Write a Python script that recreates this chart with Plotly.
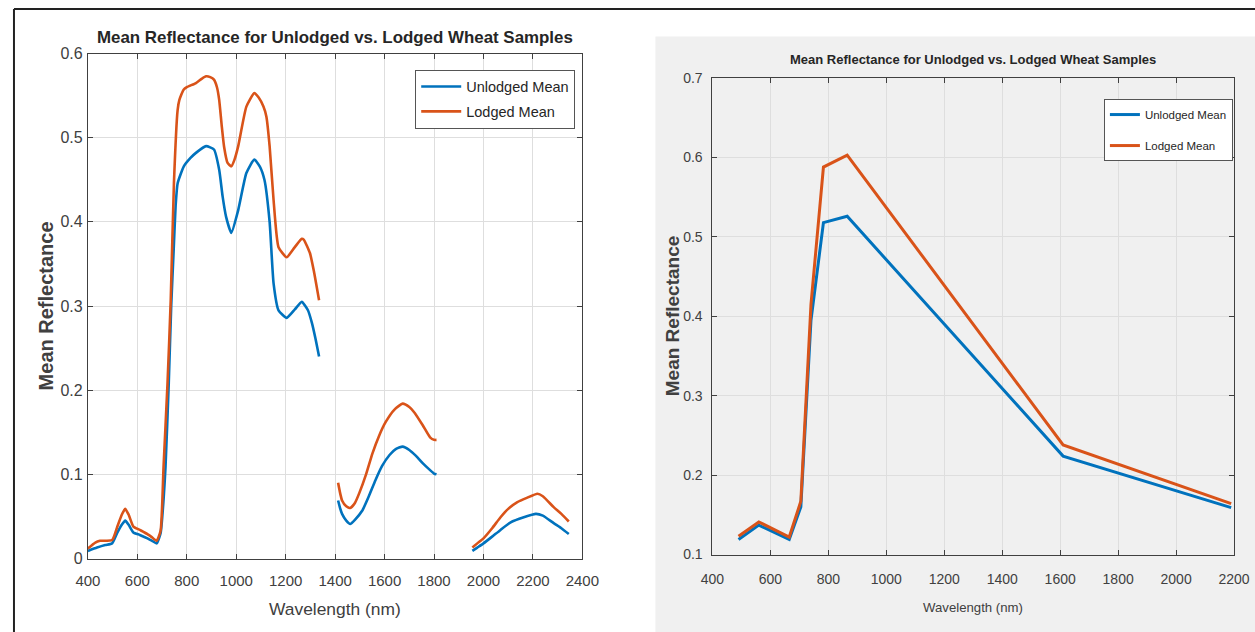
import plotly.graph_objects as go

# ---------------- Left chart data (hyperspectral mean reflectance) ----------------
left_wl = [400, 437, 470, 498, 518, 537, 551, 565, 584, 610, 641, 660, 678, 694, 706, 714, 727, 737, 747, 755, 763,
           788, 815, 837, 878, 910, 931, 945, 959, 980, 1008, 1041, 1073, 1095, 1114, 1135, 1151, 1171, 1204, 1237,
           1265, 1290, 1306, 1320, 1335, None,
           1412, 1420, 1428, 1445, 1461, 1480, 1510, 1535, 1563, 1590, 1620, 1645, 1673, 1700, 1727, 1755, 1784, 1800, 1810, None,
           1955, 1975, 2000, 2035, 2069, 2110, 2163, 2212, 2240, 2284, 2315, 2345]
left_unlodged = [0.009, 0.013, 0.016, 0.018, 0.030, 0.040, 0.045, 0.040, 0.031, 0.028, 0.024, 0.021, 0.018, 0.030, 0.070,
                 0.109, 0.208, 0.300, 0.367, 0.420, 0.446,
                 0.466, 0.476, 0.482, 0.490, 0.486, 0.462, 0.430, 0.406, 0.387, 0.414, 0.458, 0.474, 0.466, 0.450,
                 0.400, 0.327, 0.295, 0.286, 0.296, 0.305, 0.295, 0.280, 0.262, 0.240, None,
                 0.069, 0.060, 0.053, 0.045, 0.041, 0.046, 0.057, 0.073, 0.093, 0.110, 0.123, 0.130, 0.133, 0.129,
                 0.122, 0.113, 0.105, 0.101, 0.100, None,
                 0.009, 0.013, 0.018, 0.026, 0.034, 0.043, 0.049, 0.053, 0.051, 0.042, 0.036, 0.029]

left_wl_l = [400, 430, 449, 498, 518, 537, 551, 565, 584, 610, 641, 660, 678, 694, 706, 722, 735, 748, 763,
             770, 787, 800, 837, 860, 878, 895, 910, 922, 931, 941, 951, 965, 980, 993, 1008, 1041, 1073, 1090,
             1110, 1122, 1135, 1151, 1171, 1204, 1237, 1265, 1273, 1298, 1315, 1335, None,
             1412, 1420, 1428, 1445, 1461, 1480, 1498, 1525, 1551, 1578, 1604, 1640, 1673, 1700, 1722, 1755, 1784, 1800, 1810, None,
             1955, 1975, 2000, 2035, 2069, 2100, 2137, 2175, 2218, 2240, 2284, 2315, 2345]
left_lodged = [0.012, 0.019, 0.021, 0.022, 0.037, 0.052, 0.059, 0.052, 0.038, 0.034, 0.029, 0.025, 0.021, 0.033,
               0.109, 0.208, 0.307, 0.446, 0.533,
               0.545, 0.557, 0.560, 0.565, 0.570, 0.573, 0.572, 0.569, 0.560, 0.545, 0.515, 0.489, 0.470, 0.466,
               0.474, 0.490, 0.537, 0.553, 0.548, 0.537, 0.525, 0.490, 0.426, 0.370, 0.358, 0.370, 0.380, 0.379,
               0.363, 0.340, 0.307, None,
               0.090, 0.078, 0.069, 0.062, 0.060, 0.066, 0.078, 0.100, 0.125, 0.146, 0.162, 0.177, 0.184, 0.180,
               0.173, 0.158, 0.144, 0.141, 0.141, None,
               0.013, 0.018, 0.024, 0.036, 0.049, 0.059, 0.067, 0.072, 0.077, 0.074, 0.061, 0.053, 0.044]

# ---------------- Right chart data (band means) ----------------
right_wl = [490, 560, 665, 705, 740, 783, 865, 1610, 2190]
right_unlodged = [0.119, 0.137, 0.119, 0.160, 0.395, 0.518, 0.526, 0.224, 0.159]
right_lodged = [0.123, 0.141, 0.122, 0.167, 0.415, 0.588, 0.603, 0.238, 0.164]

left_xticks = [400, 600, 800, 1000, 1200, 1400, 1600, 1800, 2000, 2200, 2400]
left_yticks = [0, 0.1, 0.2, 0.3, 0.4, 0.5, 0.6]
left_ytext = ["0", "0.1", "0.2", "0.3", "0.4", "0.5", "0.6"]
right_xticks = [400, 600, 800, 1000, 1200, 1400, 1600, 1800, 2000, 2200]
right_yticks = [0.1, 0.2, 0.3, 0.4, 0.5, 0.6, 0.7]

title_text = "Mean Reflectance for Unlodged vs. Lodged Wheat Samples"
BLUE = "#0072BD"
ORANGE = "#D95319"
W, H = 1275, 650
FONT = "Liberation Sans, Arial, sans-serif"
TXT = "#404040"

def px(x):
    return min(max(x / W, 0), 1)

def py(y):
    return min(max(1 - y / H, 0), 1)

fig = go.Figure()
fig.add_trace(go.Scatter(x=left_wl, y=left_unlodged, mode="lines", name="Unlodged Mean", legendgroup="a",
                         line=dict(color=BLUE, width=2.6, shape="spline", smoothing=0.5),
                         xaxis="x", yaxis="y", legend="legend", connectgaps=False))
fig.add_trace(go.Scatter(x=left_wl_l, y=left_lodged, mode="lines", name="Lodged Mean", legendgroup="b",
                         line=dict(color=ORANGE, width=2.6, shape="spline", smoothing=0.5),
                         xaxis="x", yaxis="y", legend="legend", connectgaps=False))
fig.add_trace(go.Scatter(x=right_wl, y=right_unlodged, mode="lines", name="Unlodged Mean", legendgroup="c",
                         line=dict(color=BLUE, width=3), xaxis="x2", yaxis="y2", legend="legend2"))
fig.add_trace(go.Scatter(x=right_wl, y=right_lodged, mode="lines", name="Lodged Mean", legendgroup="d",
                         line=dict(color=ORANGE, width=3), xaxis="x2", yaxis="y2", legend="legend2"))

axis_common = dict(showline=True, linecolor=TXT, linewidth=1, mirror="ticks", ticks="inside", ticklen=5,
                   tickcolor=TXT, showgrid=True, gridcolor="#dedede", gridwidth=1, zeroline=False)

fig.update_layout(
    width=W, height=H, margin=dict(l=0, r=0, t=0, b=0),
    paper_bgcolor="white", plot_bgcolor="white",
    xaxis=dict(domain=[px(76.7), px(583.1)], range=[400, 2400], tickvals=left_xticks, anchor="y",
               ticklabelstandoff=8, tickfont=dict(family=FONT, size=15, color=TXT), **axis_common),
    yaxis=dict(domain=[py(565.3), py(46.8)], range=[0, 0.6], tickvals=left_yticks, ticktext=left_ytext, anchor="x",
               ticklabelstandoff=1, tickfont=dict(family=FONT, size=16, color=TXT), **axis_common),
    xaxis2=dict(domain=[px(716.3), px(1250.5)], range=[400, 2200], tickvals=right_xticks, anchor="y2",
                ticklabelstandoff=12, tickfont=dict(family=FONT, size=14, color=TXT), **axis_common),
    yaxis2=dict(domain=[py(561.2), py(72.0)], range=[0.1, 0.7], tickvals=right_yticks, anchor="x2",
                ticklabelstandoff=6, tickfont=dict(family=FONT, size=14, color=TXT), **axis_common),
    legend=dict(x=px(411.9), y=py(63.3), xanchor="left", yanchor="top", bgcolor="white",
                bordercolor="#555555", borderwidth=1, font=dict(family=FONT, size=14.5, color="#262626"),
                itemwidth=40, tracegroupgap=3),
    legend2=dict(x=px(1117.2), y=py(93.5), xanchor="left", yanchor="top", bgcolor="white",
                 bordercolor="#555555", borderwidth=1, font=dict(family=FONT, size=11.5, color="#262626"),
                 itemwidth=30, tracegroupgap=12),
    showlegend=True,
)

# background panel of right chart and frame lines
fig.add_shape(type="rect", xref="paper", yref="paper", x0=px(657.9), x1=1, y0=0, y1=py(29.3),
              fillcolor="#f0f0f0", line=dict(width=0), layer="below")
fig.add_shape(type="line", xref="paper", yref="paper", x0=px(1), x1=1, y0=py(1), y1=py(1),
              line=dict(color="#222222", width=2))
fig.add_shape(type="line", xref="paper", yref="paper", x0=px(1), x1=px(1), y0=0, y1=py(1),
              line=dict(color="#222222", width=2))

ann = [
    dict(text="<b>" + title_text + "</b>", x=px(329.9), y=py(30.4), font=dict(family=FONT, size=16.9, color="#262626")),
    dict(text="<b>" + title_text + "</b>", x=px(982.9), y=py(53.0), font=dict(family=FONT, size=13, color="#262626")),
    dict(text="Wavelength (nm)", x=px(329.9), y=py(616.8), font=dict(family=FONT, size=17.4, color=TXT)),
    dict(text="Wavelength (nm)", x=px(982.9), y=py(615.7), font=dict(family=FONT, size=13.2, color=TXT)),
    dict(text="<b>Mean Reflectance</b>", x=px(34.1), y=py(306.1), textangle=-90, font=dict(family=FONT, size=20, color=TXT)),
    dict(text="<b>Mean Reflectance</b>", x=px(675), y=py(316.4), textangle=-90, font=dict(family=FONT, size=19, color=TXT)),
]
for a in ann:
    fig.add_annotation(xref="paper", yref="paper", showarrow=False, xanchor="center", yanchor="middle", **a)

fig.write_html("out.html", config={"displayModeBar": False},
               post_script="document.body.style.margin='0';document.body.style.overflow='hidden';")
